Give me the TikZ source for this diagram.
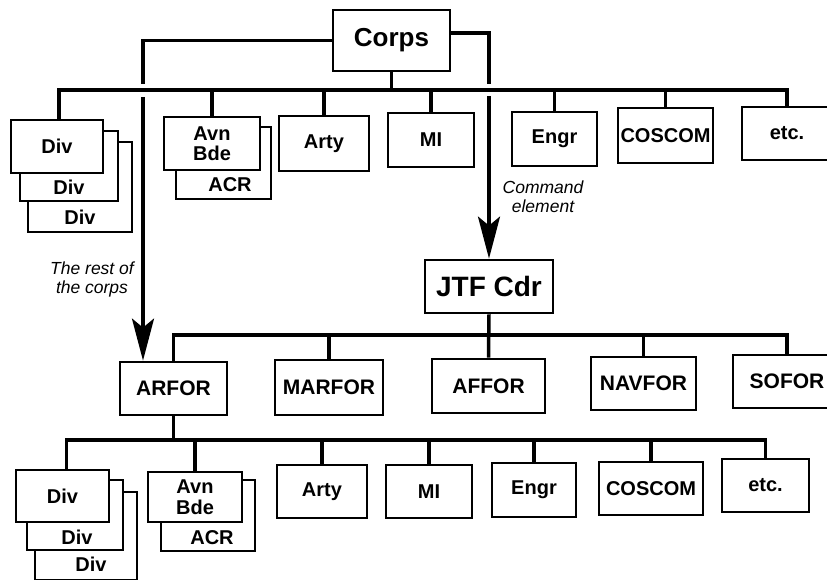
\documentclass[tikz,border=0pt]{standalone}
\usepackage{fontspec}
\setmainfont{Liberation Sans}
\usetikzlibrary{arrows.meta}
\newcommand\mkbox[7][]{\node[box,#1,minimum width={#5-#3},minimum height={#6-#4}] (#2) at ({(#3+#5)/2},{(#4+#6)/2}) {#7};}
\begin{document}
\begin{tikzpicture}[x=1pt,y=-1pt,
  box/.style={draw,line width=2.8pt,fill=white,inner sep=0pt,align=center,
    font=\bfseries\fontsize{20}{20.5}\selectfont},
  big/.style={font=\bfseries\fontsize{26}{28}\selectfont},
  huge/.style={font=\bfseries\fontsize{28}{30}\selectfont},
  mid/.style={font=\bfseries\fontsize{21}{23}\selectfont},
  lbl/.style={inner sep=0pt,font=\bfseries\fontsize{20}{20.5}\selectfont},
  note/.style={inner sep=0pt,align=center,font=\itshape\fontsize{17.5}{19}\selectfont},
  conn/.style={line width=3.5pt},
  arr/.style={conn,-{Stealth[length=42pt,width=22pt,inset=9pt]}}]
\useasboundingbox (0,0) rectangle (827,580);
% ---------- top level ----------
\mkbox[big]{corps}{333}{10}{450}{71}{Corps}
% row 1
\mkbox{tdivc}{28}{142}{132}{232}{}
\mkbox{tdivb}{20}{131}{118}{201}{}
\mkbox{tdiva}{11}{120}{103}{173}{Div}
\node[lbl] (tdivbt) at (69,187) {Div};
\node[lbl] (tdivct) at (80,217) {Div};
\mkbox{tacr}{176}{127}{271}{199}{}
\mkbox{tavn}{164}{117}{260}{170}{Avn\\Bde}
\node[lbl] (tacrt) at (230,185) {ACR};
\mkbox{tarty}{279}{116}{369}{171}{Arty}
\mkbox{tmi}{388}{113}{474}{167}{MI}
\mkbox{tengr}{512}{112}{597}{166}{Engr}
\mkbox{tcos}{618}{108}{713}{163}{COSCOM}
\mkbox{tetc}{742}{107}{832}{160}{etc.}
% JTF
\mkbox[huge]{jtf}{425}{260}{553}{313}{JTF Cdr}
% row 2
\mkbox[mid]{arfor}{120}{362}{227}{415}{ARFOR}
\mkbox[mid]{marfor}{275}{360}{383}{415}{MARFOR}
\mkbox[mid]{affor}{432}{359}{545}{413}{AFFOR}
\mkbox[mid]{navfor}{591}{357}{696}{410}{NAVFOR}
\mkbox[mid]{sofor}{733}{355}{841}{408}{SOFOR}
% row 3
\mkbox{bdivc}{35}{492}{137}{580}{}
\mkbox{bdivb}{27}{480}{123}{550}{}
\mkbox{bdiva}{16}{470}{109}{522}{Div}
\node[lbl] (bdivbt) at (77,537) {Div};
\node[lbl] (bdivct) at (91,564) {Div};
\mkbox{bacr}{161}{480}{255}{551}{}
\mkbox{bavn}{148}{472}{242}{522}{Avn\\Bde}
\node[lbl] (bacrt) at (212,538) {ACR};
\mkbox{barty}{277}{465}{367}{518}{Arty}
\mkbox{bmi}{386}{465}{472}{518}{MI}
\mkbox{bengr}{492}{463}{576}{517}{Engr}
\mkbox{bcos}{599}{462}{703}{515}{COSCOM}
\mkbox{betc}{722}{459}{809}{512}{etc.}
% ---------- labels ----------
\node[note] (cmdlbl) at (543,197) {Command\\element};
\node[note] (restlbl) at (92,279) {The rest of\\the corps};
% ---------- connectors ----------
\coordinate (b1) at (0,90);
\coordinate (b2) at (0,335);
\coordinate (b3) at (0,440);
\coordinate (lbend) at (143,84);
\coordinate (rbend) at (489,84);
\coordinate (lstart) at (143,97);
\coordinate (rstart) at (489,96);
% bus 1
\draw[conn] ([xshift=2pt]tdiva.north) |- (tetc.north |- b1) -- (tetc.north);
\foreach \n in {tavn,tarty,tmi,tengr,tcos}
  \draw[conn] (\n.north) -- (\n.north |- b1);
\draw[conn] (corps.south) -- (corps.south |- b1);
\draw[conn] (corps.west) -| (lbend);
\draw[conn] ([yshift=7.5pt]corps.east) -| (rbend);
\draw[arr] (lstart) -- (arfor.north -| lstart);
\draw[arr] (rstart) -- (jtf.north);
% bus 2
\draw[conn] (arfor.north) |- (sofor.north |- b2) -- (sofor.north);
\foreach \n in {marfor,navfor}
  \draw[conn] (\n.north) -- (\n.north |- b2);
\draw[conn] (jtf.south) -- (affor.north);
% bus 3
\draw[conn] (arfor.south) -- (arfor.south |- b3);
\draw[conn] ([xshift=4pt]bdiva.north) |- (betc.north |- b3) -- (betc.north);
\foreach \n in {bavn,barty,bmi,bengr,bcos}
  \draw[conn] (\n.north) -- (\n.north |- b3);
\end{tikzpicture}
\end{document}
